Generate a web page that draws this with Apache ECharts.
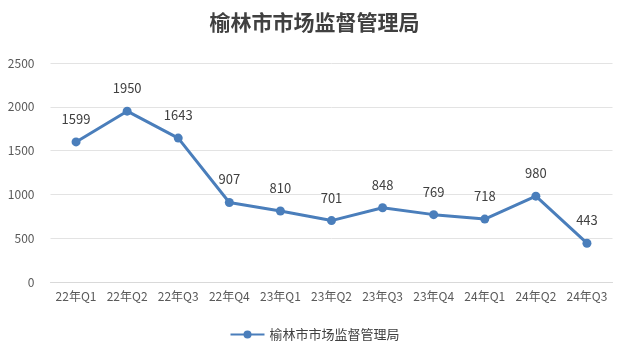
<!DOCTYPE html>
<html><head><meta charset="utf-8">
<script src="https://cdn.jsdelivr.net/npm/echarts@6/dist/echarts.min.js"></script>
<style>html,body{margin:0;padding:0;background:#fff}#c{width:629px;height:358px}</style>
</head><body><div id="c"></div>
<script>
var categories = ['22年Q1','22年Q2','22年Q3','22年Q4','23年Q1','23年Q2','23年Q3','23年Q4','24年Q1','24年Q2','24年Q3'];
var values = [1599,1950,1643,907,810,701,848,769,718,980,443];
var seriesName = '榆林市市场监督管理局';
var titleText = '榆林市市场监督管理局';
var chart = echarts.init(document.getElementById('c'));
chart.setOption({
  animation:false,
  title:{text:titleText,left:'center',top:7,textStyle:{fontFamily:'Noto Sans CJK SC',fontSize:21,fontWeight:'bold',color:'#404040'}},
  grid:{left:50.5,right:16.5,top:63,bottom:76},
  legend:{bottom:12,left:'center',data:[seriesName],itemWidth:34,itemHeight:10,textStyle:{fontFamily:'Noto Sans CJK SC',fontSize:13,color:'#404040'}},
  xAxis:{type:'category',data:categories,boundaryGap:true,
    axisLine:{lineStyle:{color:'#d9d9d9'}},axisTick:{show:false},
    axisLabel:{interval:0,margin:8,fontFamily:'Noto Sans CJK SC',fontSize:12,color:'#595959'}},
  yAxis:{type:'value',min:0,max:2500,interval:500,
    axisLine:{show:false},axisTick:{show:false},
    splitLine:{lineStyle:{color:'#e3e3e3'}},
    axisLabel:{margin:16,formatter:function(v){return String(v);},fontFamily:'Noto Sans CJK SC',fontSize:12,color:'#595959'}},
  series:[{name:seriesName,type:'line',data:values,symbol:'circle',symbolSize:9,
    lineStyle:{width:3,color:'#4a7ebb'},itemStyle:{color:'#4a7ebb'},
    label:{show:true,position:'top',distance:12,fontFamily:'Noto Sans CJK SC',fontSize:13,color:'#404040'}}]
});
</script></body></html>
